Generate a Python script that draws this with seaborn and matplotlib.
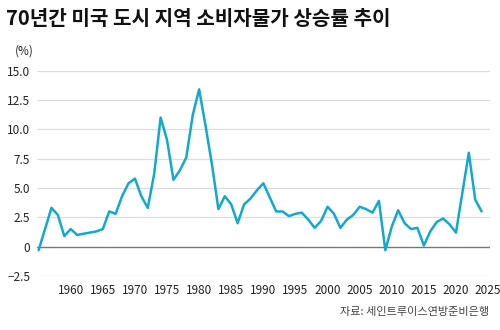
import matplotlib
matplotlib.use("Agg")
import matplotlib.pyplot as plt
import seaborn as sns
import pandas as pd

years = list(range(1955, 2025))
inflation = [-0.3, 1.5, 3.3, 2.7, 0.9, 1.5, 1.0, 1.1, 1.2, 1.3, 1.5, 3.0, 2.8, 4.3, 5.4, 5.8,
             4.3, 3.3, 6.2, 11.0, 9.1, 5.7, 6.5, 7.6, 11.2, 13.4, 10.3, 7.0, 3.2, 4.3,
             3.6, 2.0, 3.6, 4.1, 4.8, 5.4, 4.2, 3.0, 3.0, 2.6, 2.8, 2.9, 2.3, 1.6,
             2.2, 3.4, 2.8, 1.6, 2.3, 2.7, 3.4, 3.2, 2.9, 3.9, -0.3, 1.7, 3.1, 2.0,
             1.5, 1.6, 0.1, 1.3, 2.1, 2.4, 1.9, 1.2, 4.6, 8.0, 4.0, 3.0]
yticks = [-2.5, 0, 2.5, 5.0, 7.5, 10.0, 12.5, 15.0]
ytick_labels = ["−2.5", "0", "2.5", "5.0", "7.5", "10.0", "12.5", "15.0"]
xticks = list(range(1960, 2030, 5))

df = pd.DataFrame({"year": years, "cpi": inflation})

sns.set_theme(style="white")
plt.rcParams["font.family"] = ["Noto Sans CJK KR", "DejaVu Sans"]

fig = plt.figure(figsize=(5, 3.3), dpi=100)
ax = fig.add_axes([0.074, 0.1636, 0.906, 0.6224])

for y in yticks:
    if y == 0:
        ax.axhline(y, color="#777777", lw=1.0, zorder=1)
    else:
        ax.axhline(y, color="#dddddd", lw=0.9, zorder=0)

sns.lineplot(data=df, x="year", y="cpi", ax=ax, color="#14a8cf", lw=1.8, zorder=3)

ax.set_xlim(1954.75, 2025.3)
ax.set_ylim(-2.5, 15)
ax.set_yticks(yticks)
ax.set_yticklabels(ytick_labels)
ax.set_xticks(xticks)
ax.set_xticklabels([str(x) for x in xticks])
ax.tick_params(axis="both", length=0, labelsize=8.5, colors="#222222")
ax.tick_params(axis="y", pad=5)
ax.tick_params(axis="x", pad=6)
ax.set_xlabel("")
ax.set_ylabel("")
for s in ax.spines.values():
    s.set_visible(False)

fig.text(0.012, 0.945, "70년간 미국 도시 지역 소비자물가 상승률 추이", fontsize=14.5,
         fontweight="bold", color="#111111", va="center", ha="left")
fig.text(0.03, 0.845, "(%)", fontsize=8.5, color="#222222", va="center", ha="left")
fig.text(0.978, 0.055, "자료: 세인트루이스연방준비은행", fontsize=8, color="#444444",
         va="center", ha="right")

fig.savefig("out.png", dpi=100)
